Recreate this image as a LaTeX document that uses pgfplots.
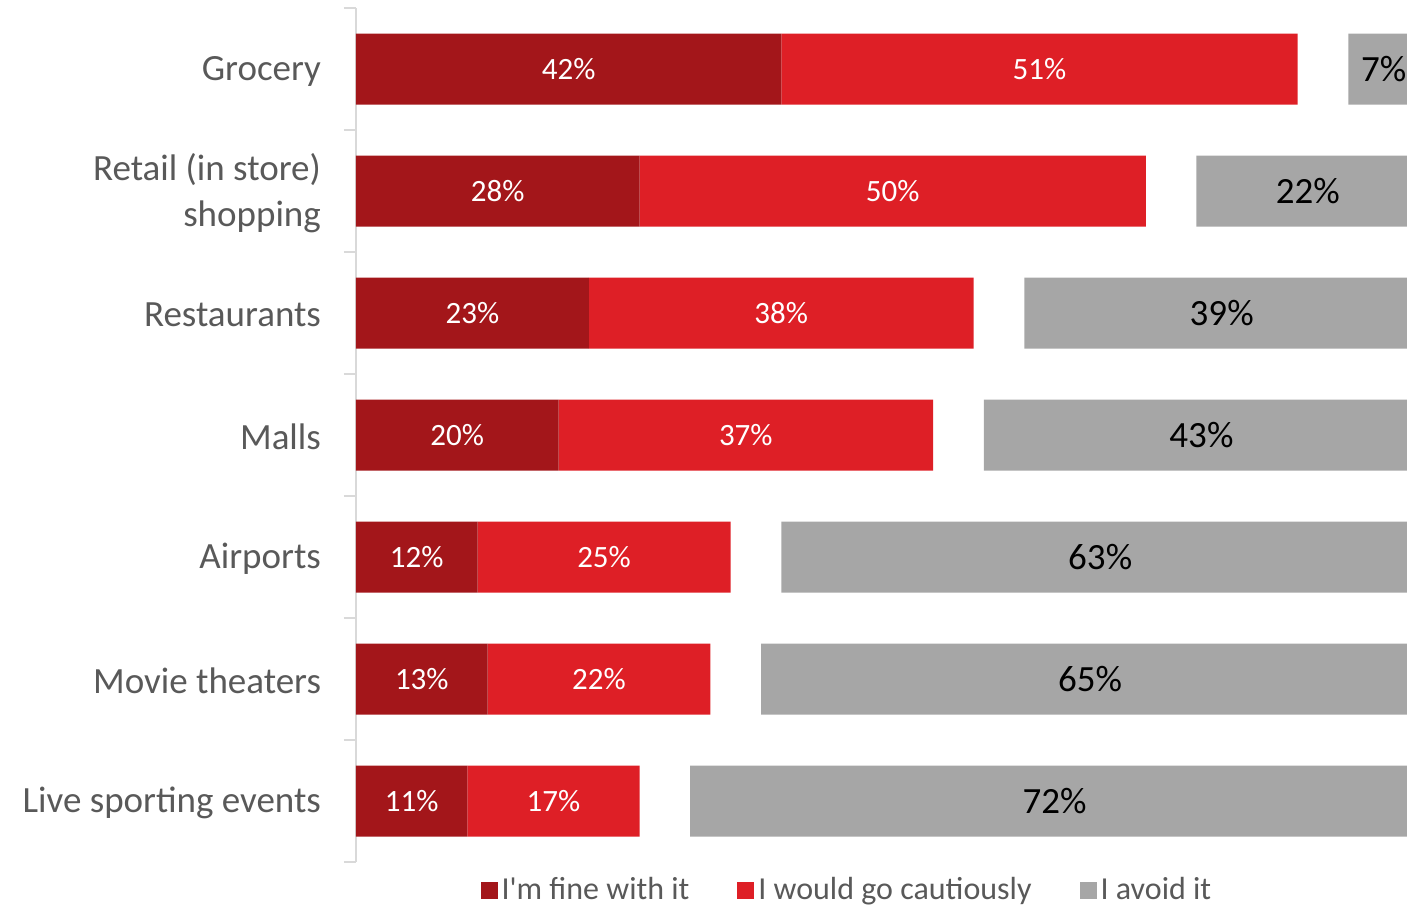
\documentclass[border=0pt]{standalone}
\usepackage{pgfplots}
\pgfplotsset{compat=1.18}
\usepackage{fontspec}
\setmainfont{Carlito}[Ligatures=TeXOff]
\definecolor{cdark}{HTML}{A3161A}
\definecolor{cred}{HTML}{DE1F26}
\definecolor{cgrey}{HTML}{A6A6A6}
\definecolor{labgray}{HTML}{595959}
\definecolor{axgray}{HTML}{D9D9D9}
\begin{document}
\begin{tikzpicture}
\begin{axis}[
  scale only axis, width=525.5pt, height=427pt, at={(0pt,0pt)}, anchor=south west,
  xbar stacked, bar width=35.5pt, clip=false,
  xmin=0, xmax=103.8, ymin=-0.5, ymax=6.5, y dir=reverse,
  axis x line=none, axis y line*=left,
  axis line style={draw=axgray, line width=1pt},
  ytick={0,...,6},
  yticklabels={Grocery,{Retail (in store)\\shopping},Restaurants,Malls,Airports,Movie theaters,Live sporting events},
  yticklabel style={align=right, font=\fontsize{18.5}{23}\selectfont, text=labgray, xshift=-14pt, yshift=-1pt},
  major tick length=0pt,
  minor ytick={-0.5,0.5,...,6.5},
  minor tick length=6pt,
  tick align=outside,
  every minor tick/.style={draw=axgray, line width=1pt},
  visualization depends on=rawx \as \rawx,
  legend style={at={(0.468,-0.033)}, anchor=center, legend columns=-1, draw=none,
    font=\fontsize{16}{19}\selectfont, text=labgray,
    /tikz/every even column/.append style={column sep=22pt}},
  legend image code/.code={\fill[#1,draw=none] (0pt,-4.25pt) rectangle (8.5pt,4.25pt);},
]
\addplot+[fill=cdark, draw=none,
  nodes near coords={\pgfmathprintnumber[assume math mode=true]{\rawx}\%},
  every node near coord/.append style={anchor=center, text=white, font=\fontsize{15.5}{18}\selectfont}]
  coordinates {(42,0) (28,1) (23,2) (20,3) (12,4) (13,5) (11,6)};
\addplot+[fill=cred, draw=none,
  nodes near coords={\pgfmathprintnumber[assume math mode=true]{\rawx}\%},
  every node near coord/.append style={anchor=center, text=white, font=\fontsize{15.5}{18}\selectfont}]
  coordinates {(51,0) (50,1) (38,2) (37,3) (25,4) (22,5) (17,6)};
\addplot+[fill=none, draw=none]
  coordinates {(5,0) (5,1) (5,2) (5,3) (5,4) (5,5) (5,6)};
\addplot+[fill=cgrey, draw=none,
  nodes near coords={\pgfmathprintnumber[assume math mode=true]{\rawx}\%},
  every node near coord/.append style={anchor=center, text=black, font=\fontsize{18.5}{22}\selectfont}]
  coordinates {(7,0) (22,1) (39,2) (43,3) (63,4) (65,5) (72,6)};
\legend{I'm fine with it,I would go cautiously,,I avoid it}
\end{axis}
\pgfresetboundingbox
\useasboundingbox (-178pt,-23pt) rectangle (525.5pt,431pt);
\end{tikzpicture}
\end{document}
